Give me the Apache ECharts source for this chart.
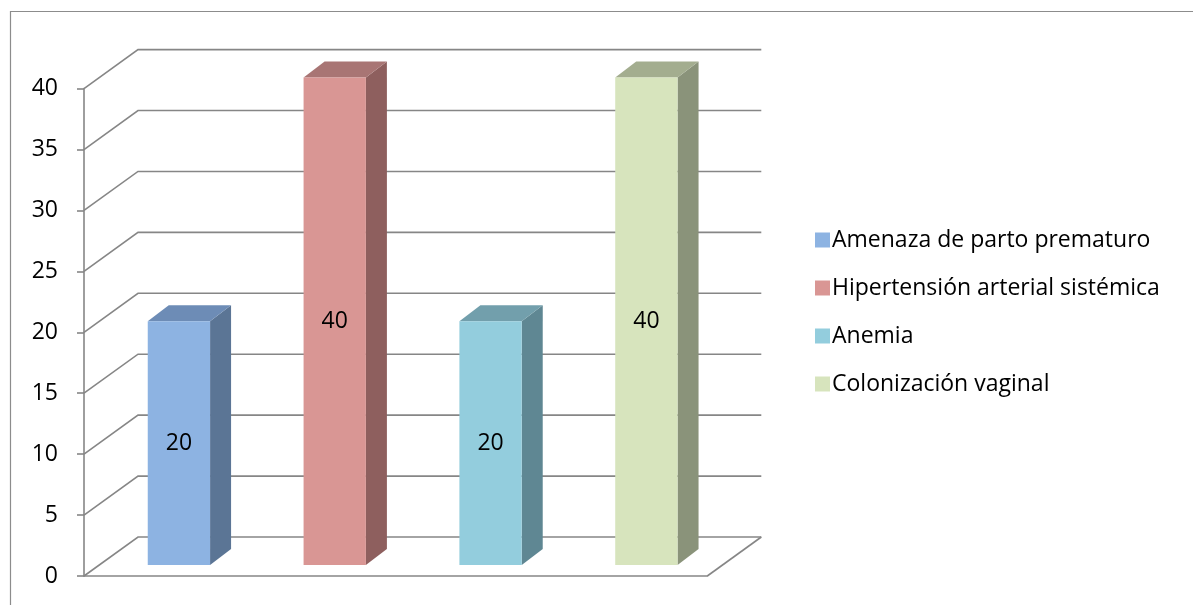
<!DOCTYPE html>
<html>
<head>
<meta charset="utf-8">
<script src="https://cdn.jsdelivr.net/npm/echarts@6/dist/echarts.min.js"></script>
<style>
  html, body { margin: 0; padding: 0; background: #fff; }
  #chart { width: 1193px; height: 605px; }
</style>
</head>
<body>
<div id="chart"></div>
<script>
// Categories and values
const categories = ['Amenaza de parto prematuro', 'Hipertensión arterial sistémica', 'Anemia', 'Colonización vaginal'];
const values = [20, 40, 20, 40];
const yTicks = [0, 5, 10, 15, 20, 25, 30, 35, 40];

// Face colours of each 3D column
const frontColors = ['#8DB3E2', '#D99694', '#93CDDD', '#D7E4BD'];
const sideColors = ['#5B7595', '#8E5F5E', '#5F8793', '#8A937A'];
const topColors = ['#6D8CB6', '#A87574', '#729FAC', '#A3AD8F'];

// Pseudo-3D geometry (pixel offsets)
const WALL = [54, -39];       // front plane -> back wall
const BAR_SHIFT = [17, -11];  // front plane -> column front face
const BAR_DEPTH = [21, -16];  // column front face -> column back face
const GRID_COLOR = '#868686';
const FONT = '"Open Sans", "Noto Sans", sans-serif';

const chart = echarts.init(document.getElementById('chart'), null, { renderer: 'canvas' });

// Back wall gridlines, the diagonals joining them to the axis ticks, and the floor edge
function wallRenderer(params, api) {
  const cs = params.coordSys;
  const v = api.value(1);
  const y = api.coord([0, v])[1];
  const x0 = cs.x, x1 = cs.x + cs.width;
  const lineStyle = { stroke: GRID_COLOR, lineWidth: 1.6, fill: null };
  const children = [{
    type: 'polyline',
    shape: { points: [[x0, y], [x0 + WALL[0], y + WALL[1]], [x1 + WALL[0], y + WALL[1]]] },
    style: lineStyle
  }];
  if (v === 0) {
    children.push({
      type: 'line',
      shape: { x1: x1, y1: y, x2: x1 + WALL[0], y2: y + WALL[1] },
      style: lineStyle
    });
  }
  return { type: 'group', children: children };
}

// One 3D column: side, top, front face and the value label
function barRenderer(i) {
  return function (params, api) {
    const ci = api.value(0), v = api.value(1);
    const base = api.coord([ci, 0]);
    const top = api.coord([ci, v]);
    const w = api.size([1, 0])[0] * 0.4;
    const xl = base[0] - w / 2 + BAR_SHIFT[0], xr = xl + w;
    const yb = base[1] + BAR_SHIFT[1], yt = top[1] + BAR_SHIFT[1];
    const dx = BAR_DEPTH[0], dy = BAR_DEPTH[1];
    return {
      type: 'group',
      children: [
        { type: 'polygon', shape: { points: [[xr, yb], [xr + dx, yb + dy], [xr + dx, yt + dy], [xr, yt]] },
          style: { fill: sideColors[i] } },
        { type: 'polygon', shape: { points: [[xl, yt], [xr, yt], [xr + dx, yt + dy], [xl + dx, yt + dy]] },
          style: { fill: topColors[i] } },
        { type: 'rect', shape: { x: xl, y: yt, width: w, height: yb - yt },
          style: { fill: frontColors[i] } },
        { type: 'text', x: (xl + xr) / 2, y: (yt + yb) / 2,
          style: { text: String(v), fill: '#000', fontSize: 23, fontFamily: FONT,
                   align: 'center', verticalAlign: 'middle' } }
      ]
    };
  };
}

const barSeries = categories.map(function (name, i) {
  return {
    type: 'custom',
    name: name,
    coordinateSystem: 'cartesian2d',
    itemStyle: { color: frontColors[i] },
    data: [[i, values[i]]],
    renderItem: barRenderer(i),
    clip: false,
    z: 3
  };
});

chart.setOption({
  animation: false,
  backgroundColor: '#fff',
  graphic: [{
    type: 'rect',
    shape: { x: 10.5, y: 11.5, width: 1200, height: 620 },
    style: { fill: null, stroke: '#8c8c8c', lineWidth: 1.2 },
    silent: true
  }],
  grid: { left: 84, right: 485.7, top: 88.6, bottom: 29 },
  xAxis: {
    type: 'category',
    data: categories,
    boundaryGap: true,
    axisLine: { show: true, lineStyle: { color: GRID_COLOR, width: 1.6 } },
    axisTick: { show: false },
    axisLabel: { show: false },
    splitLine: { show: false }
  },
  yAxis: {
    type: 'value',
    min: 0,
    max: 40,
    interval: 5,
    axisLine: { show: true, lineStyle: { color: GRID_COLOR, width: 1.6 } },
    axisTick: { show: true, length: 7, lineStyle: { color: GRID_COLOR, width: 1.6 } },
    axisLabel: { color: '#000', fontSize: 23, fontFamily: FONT, margin: 26 },
    splitLine: { show: false }
  },
  legend: {
    orient: 'vertical',
    left: 810,
    top: 223.5,
    icon: 'rect',
    itemWidth: 15,
    itemHeight: 15,
    itemGap: 25,
    data: categories,
    selectedMode: false,
    textStyle: { color: '#000', fontSize: 23, fontFamily: FONT, lineHeight: 23, padding: [0, 0, 0, -3] }
  },
  series: [{
    type: 'custom',
    name: 'wall',
    coordinateSystem: 'cartesian2d',
    data: yTicks.map(function (v) { return [0, v]; }),
    renderItem: wallRenderer,
    clip: false,
    silent: true,
    z: 1
  }].concat(barSeries)
});
</script>
</body>
</html>
